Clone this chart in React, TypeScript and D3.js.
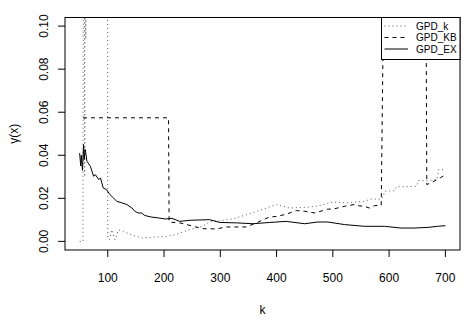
import React from 'react';
import * as d3 from 'd3';

// GPD_k (dotted) - values above the top are drawn off the plot and clipped
const kK = [50, 56, 57, 59, 60, 61, 62, 99, 100, 103, 107, 113, 119, 128, 143, 161, 179, 203, 218, 246, 269, 282, 300, 323, 347, 371, 400, 423, 450, 471, 500, 524, 556, 568, 586, 590, 592, 610, 613, 649, 652, 667, 685, 688, 700];
const vK = [0, 0, 0.3, 0.03, 0.3, 0.094, 0.3, 0.3, 0.0016, 0.0008, 0.0054, 0.0008, 0.0054, 0.0045, 0.003, 0.0016, 0.0019, 0.0023, 0.003, 0.0055, 0.007, 0.0093, 0.0095, 0.0105, 0.0124, 0.0145, 0.0171, 0.0155, 0.0158, 0.0163, 0.0183, 0.0179, 0.0186, 0.0197, 0.0196, 0.021, 0.0233, 0.0235, 0.0253, 0.0256, 0.0282, 0.0282, 0.0287, 0.0333, 0.0333];

// GPD_KB (dashed)
const kKB = [56, 208, 209, 230, 252, 269, 293, 311, 346, 364, 387, 400, 417, 435, 450, 468, 491, 500, 521, 538, 547, 556, 565, 574, 586, 589, 666, 667, 676, 691, 700];
const vKB = [0.0574, 0.0574, 0.009, 0.0085, 0.007, 0.0059, 0.0058, 0.0067, 0.0067, 0.0086, 0.0113, 0.0116, 0.0126, 0.0143, 0.014, 0.0132, 0.015, 0.015, 0.0163, 0.0171, 0.0165, 0.0163, 0.0155, 0.0166, 0.0168, 0.0862, 0.0862, 0.0264, 0.0274, 0.0295, 0.031];

// GPD_EX (solid)
const kEX = [50, 52, 53, 55, 57, 58, 60, 63, 69, 75, 78, 84, 87, 92, 98, 104, 110, 116, 125, 134, 143, 148, 154, 160, 166, 178, 190, 202, 214, 228, 246, 281, 299, 329, 358, 388, 417, 450, 473, 491, 521, 556, 592, 621, 645, 669, 686, 700];
const vEX = [0.041, 0.035, 0.04, 0.033, 0.045, 0.038, 0.0427, 0.0372, 0.0349, 0.0302, 0.031, 0.0287, 0.0295, 0.0248, 0.024, 0.0217, 0.0202, 0.0186, 0.0179, 0.0171, 0.0155, 0.014, 0.0132, 0.0132, 0.012, 0.0113, 0.0109, 0.0104, 0.0107, 0.0093, 0.0098, 0.0101, 0.0088, 0.0086, 0.0082, 0.0088, 0.0093, 0.0082, 0.009, 0.009, 0.0078, 0.007, 0.007, 0.0062, 0.0062, 0.0065, 0.007, 0.0073];

const xTicks = [100, 200, 300, 400, 500, 600, 700];
const yTicks = [0, 0.02, 0.04, 0.06, 0.08, 0.1];
const legendLabels = ["GPD_k", "GPD_KB", "GPD_EX"];

const font = '"Liberation Sans", Arial, sans-serif';

export default function App() {
    const left = 65, right = 460, top = 17.5, bottom = 250;

    const x = d3.scaleLinear().domain([24, 726]).range([left, right]);
    const y = d3.scaleLinear().domain([-0.004, 0.104]).range([bottom, top]);

    const line = d3.line<[number, number]>()
        .x(d => x(d[0]))
        .y(d => y(d[1]));

    const zip = (ks: number[], vs: number[]) => ks.map((k, i) => [k, vs[i]] as [number, number]);

    const styles = [
        { dash: "1,3", color: "#555" },
        { dash: "4,4", color: "#000" },
        { dash: null, color: "#000" },
    ];
    const series = [zip(kK, vK), zip(kKB, vKB), zip(kEX, vEX)];

    const legX = 381.5, legY = top, legW = right - 381.5, legH = 59.5 - top;
    const rows = [26, 37.5, 49];

    return (
        <svg width={475} height={327} style={{ position: 'absolute', left: 0, top: 0, background: '#fff' }}>
            <defs>
                <clipPath id="plotclip">
                    <rect x={left} y={top} width={right - left} height={bottom - top} />
                </clipPath>
            </defs>
            <rect x={0} y={0} width={475} height={327} fill="#fff" />

            <g clipPath="url(#plotclip)">
                {series.map((s, i) => (
                    <path key={i} d={line(s) || ''} fill="none"
                        stroke={styles[i].color} strokeWidth={1}
                        strokeDasharray={styles[i].dash || undefined} />
                ))}
            </g>

            <rect x={left} y={top} width={right - left} height={bottom - top} fill="none" stroke="#000" strokeWidth={1} />

            {/* x axis */}
            {xTicks.map(t => (
                <g key={t}>
                    <line x1={x(t)} x2={x(t)} y1={bottom} y2={bottom + 7} stroke="#000" />
                    <text x={x(t)} y={281.5} textAnchor="middle" fontFamily={font} fontSize={12}>{t}</text>
                </g>
            ))}
            {/* y axis */}
            {yTicks.map(t => (
                <g key={t}>
                    <line x1={left - 7} x2={left} y1={y(t)} y2={y(t)} stroke="#000" />
                    <text transform={`translate(48,${y(t)}) rotate(-90)`} textAnchor="middle" fontFamily={font} fontSize={12}>{d3.format(".2f")(t)}</text>
                </g>
            ))}

            <text x={(left + right) / 2} y={314} textAnchor="middle" fontFamily={font} fontSize={12}>k</text>
            <text transform={`translate(17.5,${(top + bottom) / 2}) rotate(-90)`} textAnchor="middle" fontFamily={font} fontSize={12}>γ(x)</text>

            {/* legend */}
            <rect x={legX} y={legY} width={legW} height={legH} fill="#fff" stroke="#000" strokeWidth={1} />
            {legendLabels.map((lab, i) => (
                <g key={lab}>
                    <line x1={384.5} x2={408} y1={rows[i]} y2={rows[i]} stroke={styles[i].color}
                        strokeDasharray={styles[i].dash || undefined} />
                    <text transform={`translate(416,${rows[i] + 3.9}) scale(0.91,1)`} fontFamily={font} fontSize={11}>{lab}</text>
                </g>
            ))}
        </svg>
    );
}
